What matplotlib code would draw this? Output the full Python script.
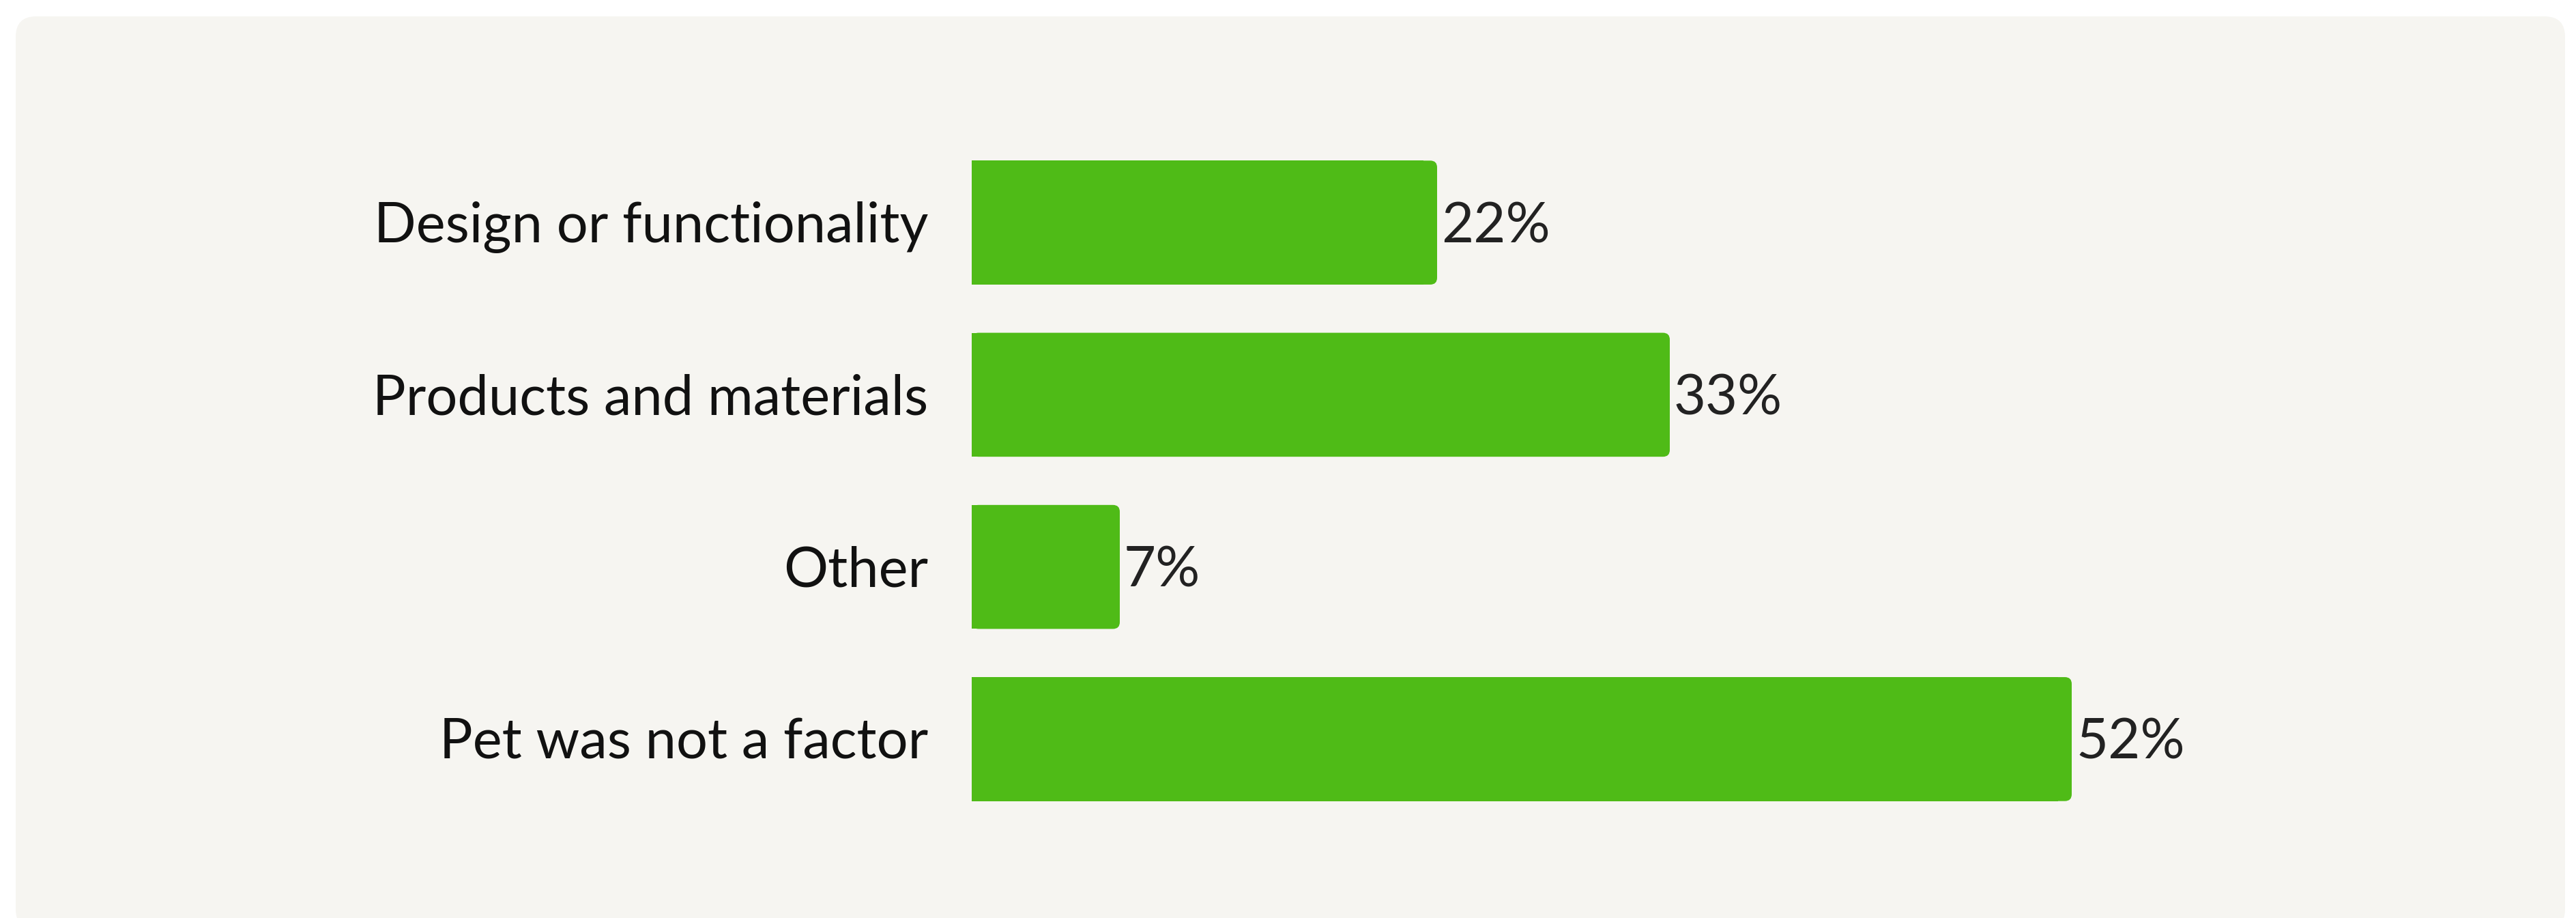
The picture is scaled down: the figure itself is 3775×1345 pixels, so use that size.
import matplotlib
matplotlib.use("Agg")
import matplotlib.pyplot as plt
from matplotlib.patches import FancyBboxPatch, Rectangle
import matplotlib.transforms as mtransforms

categories = ["Design or functionality", "Products and materials", "Other", "Pet was not a factor"]
values = [22, 33, 7, 52]
value_labels = ["22%", "33%", "7%", "52%"]

W, H, DPI = 3775, 1345, 100
BAR_COLOR = "#4fbb17"
BG_COLOR = "#f6f5f1"
FONT = ["Lato", "DejaVu Sans"]
FS = 58.5

fig = plt.figure(figsize=(W / DPI, H / DPI), dpi=DPI, facecolor="white")

# rounded panel background
bx0, by0 = 23 / W, 1 - 1362 / H
bx1, by1 = 3759 / W, 1 - 24 / H
panel = FancyBboxPatch((bx0, by0), bx1 - bx0, by1 - by0,
                       boxstyle=f"round,pad=0,rounding_size={30 / W}",
                       mutation_aspect=W / H, transform=fig.transFigure,
                       facecolor=BG_COLOR, edgecolor="none", zorder=-10)
fig.add_artist(panel)

px_per_unit = 31.0
x0_px = 1424
xmax = 75
ax_left = x0_px / W
ax_width = xmax * px_per_unit / W
top_px, bot_px = 200, 1209
ax = fig.add_axes([ax_left, 1 - bot_px / H, ax_width, (bot_px - top_px) / H])
ax.set_zorder(5)
ax.set_facecolor("none")
ax.set_xlim(0, xmax)
ax.set_ylim(len(categories) - 0.5, -0.5)
ax.axis("off")

ypos = list(range(len(categories)))
bars = ax.barh(ypos, values, height=0.72, color=BAR_COLOR)

y_px_per_unit = (bot_px - top_px) / len(categories)
r_px = 10
for b in bars:
    b.set_visible(False)
    x, y = b.get_x(), b.get_y()
    w, h = b.get_width(), b.get_height()
    rx = r_px / px_per_unit
    ax.add_patch(FancyBboxPatch((x, y), w, h,
                                boxstyle=f"round,pad=0,rounding_size={rx}",
                                mutation_aspect=px_per_unit / y_px_per_unit,
                                facecolor=BAR_COLOR, edgecolor="none", zorder=2))
    ax.add_patch(Rectangle((x, y), w - 2 * rx, h, facecolor=BAR_COLOR,
                           edgecolor="none", zorder=2))

cap_half = 29
lab_tr = mtransforms.offset_copy(ax.transData, fig=fig, x=-64, y=-cap_half, units="dots")
val_tr = mtransforms.offset_copy(ax.transData, fig=fig, x=6, y=-cap_half, units="dots")
for yi, cat, v, vl in zip(ypos, categories, values, value_labels):
    ax.text(0, yi, cat, transform=lab_tr, ha="right", va="baseline",
            fontsize=FS, family=FONT, color="#111111", clip_on=False)
    ax.text(v, yi, vl, transform=val_tr, ha="left", va="baseline",
            fontsize=FS, family=FONT, color="#222222", clip_on=False)

fig.savefig("out.png", dpi=DPI, facecolor="white")
